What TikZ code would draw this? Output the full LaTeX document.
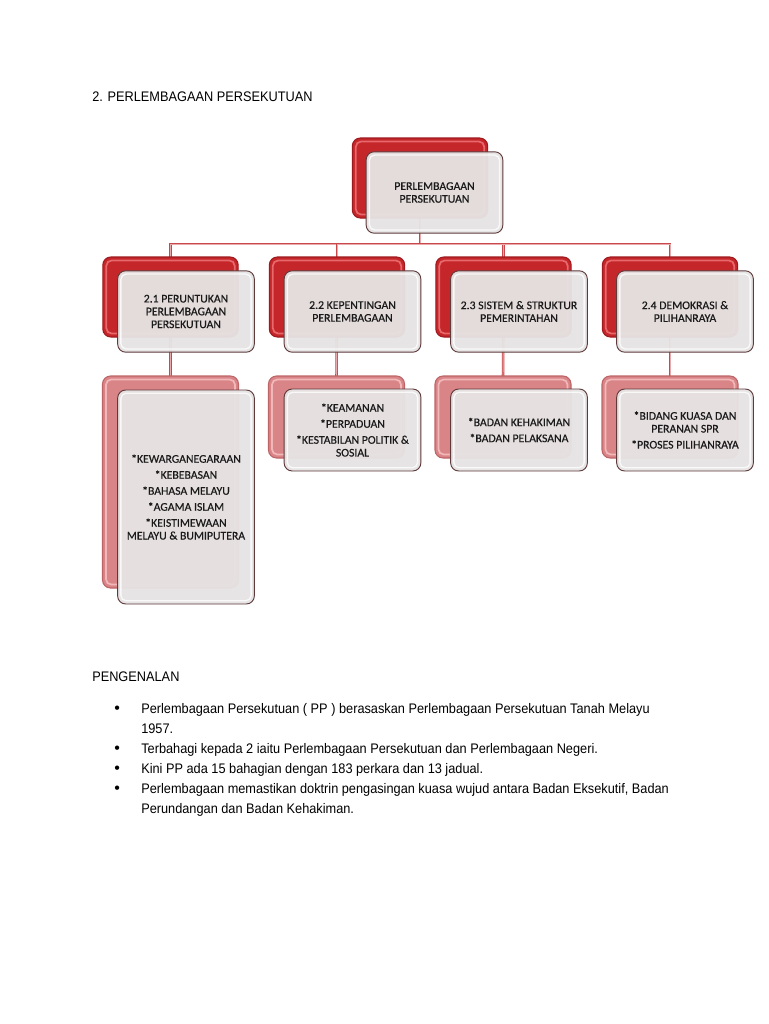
\documentclass[tikz,border=0pt]{standalone}
\usepackage{fontspec}
\setmainfont{Liberation Sans}
\newfontfamily\boxfont[FakeBold=0.5]{Carlito}
\newfontfamily\docfont[FakeStretch=0.92]{Liberation Sans}
\usetikzlibrary{backgrounds}
\definecolor{redfill}{HTML}{C4262A}
\definecolor{rededge}{HTML}{9E1A1E}
\definecolor{redhi}{HTML}{E8686B}
\definecolor{pinkfill}{HTML}{D98487}
\definecolor{pinkedge}{HTML}{BD6467}
\definecolor{pinkhi}{HTML}{F2B8B9}
\definecolor{frontfill}{HTML}{E6E3E3}
\definecolor{frontedge}{HTML}{5E3A3B}
\definecolor{connc}{HTML}{C9484C}
\definecolor{conni}{HTML}{EBA9AB}
\definecolor{boxtext}{HTML}{1A1A1A}
\begin{document}
\begin{tikzpicture}[x=0.75pt,y=-0.75pt,
  basebox/.style={rectangle, rounded corners=6pt, inner sep=0pt, outer sep=0pt},
  back/.style={basebox, draw=rededge, line width=0.8pt, fill=redfill,
    minimum width=101.5pt, minimum height=60pt,
    path picture={\draw[redhi, line width=1.3pt, rounded corners=4pt]
      ([shift={(2.6pt,-2.6pt)}]path picture bounding box.north west) rectangle
      ([shift={(-2.6pt,2.6pt)}]path picture bounding box.south east);}},
  backpink/.style={basebox, draw=pinkedge, line width=0.8pt, fill=pinkfill,
    minimum width=102pt, minimum height=61.5pt,
    path picture={\draw[pinkhi, line width=1.3pt, rounded corners=4pt]
      ([shift={(2.6pt,-2.6pt)}]path picture bounding box.north west) rectangle
      ([shift={(-2.6pt,2.6pt)}]path picture bounding box.south east);}},
  front/.style={basebox, draw=frontedge, line width=0.7pt, fill=frontfill, fill opacity=0.96, text opacity=1,
    minimum width=102.5pt, minimum height=61pt, align=center, text=boxtext,
    font=\boxfont\fontsize{8.8}{9.6}\selectfont,
    path picture={\draw[white, line width=1pt, rounded corners=4pt, opacity=0.8]
      ([shift={(2.4pt,-2.4pt)}]path picture bounding box.north west) rectangle
      ([shift={(-2.4pt,2.4pt)}]path picture bounding box.south east);}},
  conn/.style={draw=connc, line width=0.6pt, double=conni, double distance=0.7pt},
  doc/.style={anchor=base west, inner sep=0pt, font=\docfont\fontsize{10.4}{15}\selectfont, text=black}]
\useasboundingbox (0,0) rectangle (768,1024);

% title
\node[doc] (title) at (92,101) {2. PERLEMBAGAAN PERSEKUTUAN};

% level 1
\node[back] (b0) at (420,178) {};
\node[front] (f0) at (434.5,192.5) {PERLEMBAGAAN\\PERSEKUTUAN};

% level 2
\node[back] (b1) at (170.5,297) {};
\node[front] (f1) at (186,311.5) {2.1 PERUNTUKAN\\PERLEMBAGAAN\\PERSEKUTUAN};
\node[back] (b2) at (337,297) {};
\node[front] (f2) at (352.5,311.5) {2.2 KEPENTINGAN\\PERLEMBAGAAN};
\node[back] (b3) at (503.5,297) {};
\node[front] (f3) at (519,311.5) {2.3 SISTEM \& STRUKTUR\\PEMERINTAHAN};
\node[back] (b4) at (670,297) {};
\node[front] (f4) at (685,311.5) {2.4 DEMOKRASI \&\\PILIHANRAYA};

% level 3
\node[backpink, minimum height=159pt] (c1) at (170.5,482) {};
\node[front, minimum height=160.5pt] (g1) at (186,497)
  {*KEWARGANEGARAAN\\[2.4pt]*KEBEBASAN\\[2.4pt]*BAHASA MELAYU\\[2.4pt]*AGAMA ISLAM\\[2.4pt]*KEISTIMEWAAN\\MELAYU \& BUMIPUTERA};
\node[backpink] (c2) at (336.5,417) {};
\node[front, minimum height=61.5pt] (g2) at (352.5,430)
  {*KEAMANAN\\[2.4pt]*PERPADUAN\\[2.4pt]*KESTABILAN POLITIK \&\\SOSIAL};
\node[backpink] (c3) at (503,417) {};
\node[front, minimum height=61.5pt] (g3) at (519,430)
  {*BADAN KEHAKIMAN\\[2.4pt]*BADAN PELAKSANA};
\node[backpink] (c4) at (670,417) {};
\node[front, minimum height=61.5pt] (g4) at (685,430)
  {*BIDANG KUASA DAN\\PERANAN SPR\\[2.4pt]*PROSES PILIHANRAYA};

% connectors
\begin{pgfonlayer}{background}
\fill[white] (0,0) rectangle (768,1024);
\coordinate (bus) at (420,244);
\draw[conn] (b0.center) -- (bus);
\draw[conn] (bus) -| (b1.center);
\draw[conn] (bus) -| (b2.center);
\draw[conn] (bus) -| (b3.center);
\draw[conn] (bus) -| (b4.center);
\draw[conn] (b1.center) -- (c1.center);
\draw[conn] (b2.center) -- (c2.north);
\draw[conn] (b3.center) -- (c3.north);
\draw[conn] (b4.center) -- (c4.north);
\end{pgfonlayer}

% text below
\node[doc] (intro) at (92,681) {PENGENALAN};
\node[doc, font=\fontsize{12}{15}\selectfont] (d1) at (114,713) {•};
\node[doc] (t1a) at (141,713) {Perlembagaan Persekutuan ( PP ) berasaskan Perlembagaan Persekutuan Tanah Melayu};
\node[doc] (t1b) at (141,733) {1957.};
\node[doc, font=\fontsize{12}{15}\selectfont] (d2) at (114,753) {•};
\node[doc] (t2) at (141,753) {Terbahagi kepada 2 iaitu Perlembagaan Persekutuan dan Perlembagaan Negeri.};
\node[doc, font=\fontsize{12}{15}\selectfont] (d3) at (114,773) {•};
\node[doc] (t3) at (141,773) {Kini PP ada 15 bahagian dengan 183 perkara dan 13 jadual.};
\node[doc, font=\fontsize{12}{15}\selectfont] (d4) at (114,793) {•};
\node[doc] (t4a) at (141,793) {Perlembagaan memastikan doktrin pengasingan kuasa wujud antara Badan Eksekutif, Badan};
\node[doc] (t4b) at (141,813) {Perundangan dan Badan Kehakiman.};
\end{tikzpicture}
\end{document}
